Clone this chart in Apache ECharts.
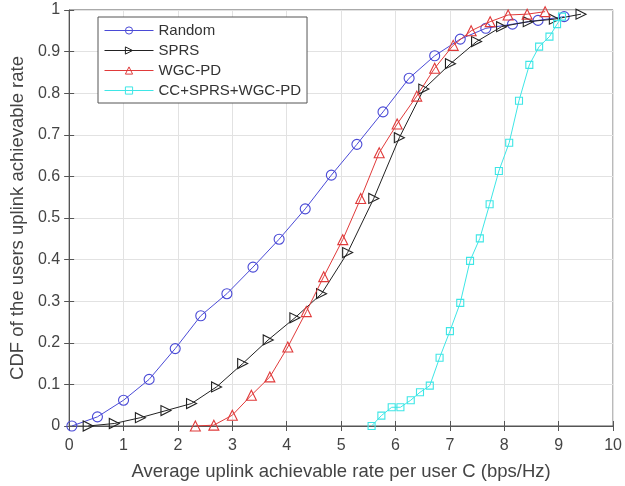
<!DOCTYPE html>
<html>
<head>
<meta charset="utf-8">
<script src="https://cdn.jsdelivr.net/npm/echarts@6/dist/echarts.min.js"></script>
<style>html,body{margin:0;padding:0;background:#fff;}#c{width:625px;height:486px;}</style>
</head>
<body>
<div id="c"></div>
<script>
const seriesNames = ['Random', 'SPRS', 'WGC-PD', 'CC+SPRS+WGC-PD'];
const xTicks = [0,1,2,3,4,5,6,7,8,9,10];
const yTicks = [0,0.1,0.2,0.3,0.4,0.5,0.6,0.7,0.8,0.9,1];

const randomX = [0.05,0.52,1.0,1.47,1.95,2.42,2.9,3.38,3.86,4.34,4.82,5.29,5.77,6.25,6.72,7.19,7.66,8.15,8.62,9.1];
const randomY = [0,0.022,0.062,0.112,0.186,0.265,0.318,0.382,0.449,0.522,0.603,0.677,0.755,0.836,0.89,0.93,0.956,0.966,0.975,0.984];

const sprsX = [0.35,0.83,1.31,1.78,2.25,2.71,3.19,3.66,4.15,4.64,5.12,5.6,6.07,6.52,7.01,7.49,7.95,8.44,8.92,9.41];
const sprsY = [0,0.006,0.02,0.037,0.054,0.094,0.15,0.207,0.26,0.318,0.417,0.547,0.693,0.81,0.871,0.924,0.96,0.972,0.978,0.99];

const wgcX = [2.32,2.66,3.0,3.35,3.69,4.02,4.36,4.68,5.03,5.36,5.7,6.03,6.39,6.72,7.06,7.39,7.74,8.07,8.42,8.75];
const wgcY = [0,0.002,0.026,0.074,0.118,0.19,0.275,0.359,0.448,0.547,0.657,0.726,0.793,0.86,0.915,0.95,0.972,0.988,0.99,0.996];

const ccX = [5.56,5.74,5.93,6.09,6.28,6.45,6.63,6.81,7.0,7.19,7.37,7.55,7.73,7.9,8.09,8.27,8.46,8.64,8.83,8.97,9.06];
const ccY = [0,0.025,0.045,0.045,0.062,0.081,0.097,0.164,0.228,0.296,0.397,0.451,0.533,0.613,0.681,0.782,0.868,0.912,0.936,0.966,0.984];

const colors = ['#4a4ad6', '#222222', '#e03a3a', '#3ee6e6'];
const symbols = ['circle', 'triangle', 'triangle', 'rect'];
const symbolSizes = [10, 10, 10, 7];
const rotations = [0, -90, 0, 0];
const xs = [randomX, sprsX, wgcX, ccX];
const ys = [randomY, sprsY, wgcY, ccY];

const zip = (a, b) => a.map((v, i) => [v, b[i]]);

const chart = echarts.init(document.getElementById('c'), null, {renderer: 'canvas'});
const textColor = '#444';
const font = 'Liberation Sans, Arial, sans-serif';

const series = seriesNames.map((name, i) => ({
  name: name,
  type: 'line',
  data: zip(xs[i], ys[i]),
  symbol: symbols[i],
  symbolSize: symbolSizes[i],
  symbolRotate: rotations[i],
  showAllSymbol: true,
  lineStyle: {color: colors[i], width: 1},
  itemStyle: {color: 'rgba(255,255,255,0)', borderColor: colors[i], borderWidth: 1.1},
  emphasis: {disabled: true},
  animation: false,
  z: 3 + i
}));

chart.setOption({
  backgroundColor: '#fff',
  animation: false,
  grid: {left: 66, top: 10, right: 11, bottom: 58, show: true, borderColor: '#555', borderWidth: 1},
  legend: {
    data: seriesNames,
    orient: 'vertical',
    left: 98, top: 17,
    itemWidth: 49, itemHeight: 9,
    itemGap: 5,
    padding: [6, 6, 5, 6],
    backgroundColor: '#fff',
    borderColor: '#555', borderWidth: 1, borderRadius: 0,
    lineStyle: {width: 1},
    itemStyle: {borderWidth: 1},
    textStyle: {fontFamily: font, fontSize: 15, lineHeight: 15, color: '#333'}
  },
  xAxis: [{
    type: 'value', min: xTicks[0], max: xTicks[xTicks.length-1], interval: 1,
    name: 'Average uplink achievable rate per user C (bps/Hz)',
    nameLocation: 'middle', nameGap: 36,
    nameTextStyle: {fontFamily: font, fontSize: 18.5, color: textColor},
    axisLine: {show: true, lineStyle: {color: '#555'}},
    axisTick: {show: true, inside: true, length: 5, lineStyle: {color: '#555'}},
    axisLabel: {fontFamily: font, fontSize: 16, color: textColor, margin: 12},
    splitLine: {show: true, lineStyle: {color: '#e2e2e2'}}
  }, {
    type: 'value', position: 'top', min: 0, max: 10, interval: 1,
    axisLine: {show: false},
    axisTick: {show: true, inside: true, length: 5, lineStyle: {color: '#555'}},
    axisLabel: {show: false}, splitLine: {show: false}
  }],
  yAxis: [{
    type: 'value', min: yTicks[0], max: yTicks[yTicks.length-1], interval: 0.1,
    name: 'CDF of the users uplink achievable rate',
    nameLocation: 'middle', nameGap: 38,
    nameTextStyle: {fontFamily: font, fontSize: 18.5, color: textColor},
    axisLine: {show: true, lineStyle: {color: '#555'}},
    axisTick: {show: true, inside: true, length: 5, lineStyle: {color: '#555'}},
    axisLabel: {fontFamily: font, fontSize: 16, color: textColor, margin: 9,
      formatter: v => String(Math.round(v * 10) / 10)},
    splitLine: {show: true, lineStyle: {color: '#e2e2e2'}}
  }, {
    type: 'value', position: 'right', min: 0, max: 1, interval: 0.1,
    axisLine: {show: false},
    axisTick: {show: true, inside: true, length: 5, lineStyle: {color: '#555'}},
    axisLabel: {show: false}, splitLine: {show: false}
  }],
  series: series
});
</script>
</body>
</html>
